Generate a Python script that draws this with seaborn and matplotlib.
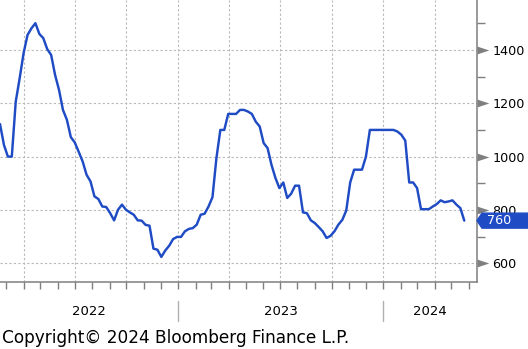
import numpy as np
import pandas as pd
import matplotlib
matplotlib.use("Agg")
import matplotlib.pyplot as plt
import matplotlib.dates as mdates
from matplotlib.path import Path
from matplotlib.patches import Polygon
from matplotlib.transforms import IdentityTransform
import seaborn as sns

# Weekly series, first observation and count
start_date = "2022-02-18"
values = [
    1122, 1044, 1000, 1000, 1206, 1294, 1388, 1456, 1481, 1500,
    1460, 1444, 1403, 1381, 1306, 1250, 1175, 1138, 1073, 1053,
    1018, 982, 932, 907, 851, 841, 813, 811, 788, 761,
    801, 820, 801, 791, 782, 761, 760, 744, 741, 655,
    651, 624, 648, 666, 691, 699, 699, 720, 729, 732,
    745, 782, 786, 813, 848, 994, 1100, 1100, 1160, 1160,
    1160, 1175, 1175, 1169, 1160, 1131, 1113, 1051, 1032, 969,
    920, 882, 903, 845, 861, 891, 891, 791, 788, 761,
    751, 736, 720, 695, 703, 720, 745, 763, 798, 903,
    951, 951, 951, 1000, 1100, 1100, 1100, 1100, 1100, 1100,
    1100, 1094, 1082, 1060, 903, 903, 882, 803, 803, 803,
    813, 822, 836, 829, 832, 836, 820, 807, 760,
]
y_major = [600, 800, 1000, 1200, 1400]
y_minor = [700, 900, 1100, 1300, 1500]
year_labels = ["2022", "2023", "2024"]
copyright_text = "Copyright\u00a9 2024 Bloomberg Finance L.P."

dates = pd.date_range(start_date, periods=len(values), freq="7D")
df = pd.DataFrame({"date": dates, "value": values})

sns.set_style("white")
plt.rcParams["font.family"] = ["DejaVu Sans"]

BLUE = "#1f4bc4"
GRAY = "#7f7f7f"
GRID = "#b8b8b8"

W, H = 528, 349
fig = plt.figure(figsize=(W / 100, H / 100), dpi=100)
ax = fig.add_axes([0, (H - 282) / H, 477 / W, 282 / H])

sns.lineplot(data=df, x="date", y="value", ax=ax, color=BLUE, linewidth=1.75)

x0 = pd.Timestamp(start_date)
x1 = x0 + pd.Timedelta(days=848.6)
ax.set_xlim(x0, x1)
ax.set_ylim(530, 1587)
ax.set_xlabel("")
ax.set_ylabel("")

# x axis: quarterly grid, monthly ticks
ax.xaxis.set_major_locator(mdates.MonthLocator(bymonth=[1, 4, 7, 10]))
ax.xaxis.set_minor_locator(mdates.MonthLocator())
ax.xaxis.set_major_formatter(plt.NullFormatter())
ax.tick_params(axis="x", which="both", direction="out", length=5,
               width=1, color=GRAY, bottom=True)

# y axis on the right
ax.yaxis.tick_right()
ax.set_yticks(y_major)
ax.set_yticks(y_minor, minor=True)
ax.set_yticklabels([str(v) for v in y_major])
ax.tick_params(axis="y", which="major", length=0, pad=11, labelsize=9.2,
               labelcolor="black")
ax.tick_params(axis="y", which="minor", length=6, width=1, color=GRAY,
               right=True, left=False)

ax.grid(True, which="major", color=GRID, linestyle=(0, (2, 2)), linewidth=0.8)

for side in ["top", "left"]:
    ax.spines[side].set_visible(False)
for side in ["bottom", "right"]:
    ax.spines[side].set_color(GRAY)
    ax.spines[side].set_linewidth(1.1)

# triangular markers for the labelled levels
tri = Path([(0, -0.33), (1, 0), (0, 0.33), (0, -0.33)])
ax.plot([1] * len(y_major), y_major, transform=ax.get_yaxis_transform(),
        marker=tri, ms=17, mew=0, color=GRAY, ls="none", clip_on=False,
        zorder=5)

# year labels and separators
year_starts = [pd.Timestamp(f"{y}-01-01") for y in year_labels]
bounds = [x0] + year_starts[1:] + [x1]
xt = ax.get_xaxis_transform()
for i, lab in enumerate(year_labels):
    a, b = bounds[i], bounds[i + 1]
    mid = a + (b - a) / 2
    ax.text(mid, -0.105, lab, transform=xt, ha="center", va="center",
            fontsize=9.5, color="black")
for d in year_starts[1:]:
    ax.plot([d, d], [-0.067, -0.138], transform=xt, color="#b0b0b0",
            lw=1, clip_on=False)

fig.text(2 / W, (H - 343) / H, copyright_text, fontsize=12.2,
         color="black", ha="left", va="baseline")

# last value tag
fig.canvas.draw()
last = values[-1]
px = ax.transAxes.transform((1, 0))[0]
py = ax.transData.transform((0, last))[1]
h = 7.5
tag = Polygon([(px, py), (px + 5, py + h), (W + 5, py + h),
               (W + 5, py - h), (px + 5, py - h)], closed=True,
              transform=IdentityTransform(), facecolor=BLUE,
              edgecolor=BLUE, zorder=10)
fig.add_artist(tag)
fig.text(px + 10, py, str(last), transform=IdentityTransform(),
         color="white", fontsize=9.2, ha="left", va="center", zorder=11)

fig.savefig("out.png", dpi=100)
